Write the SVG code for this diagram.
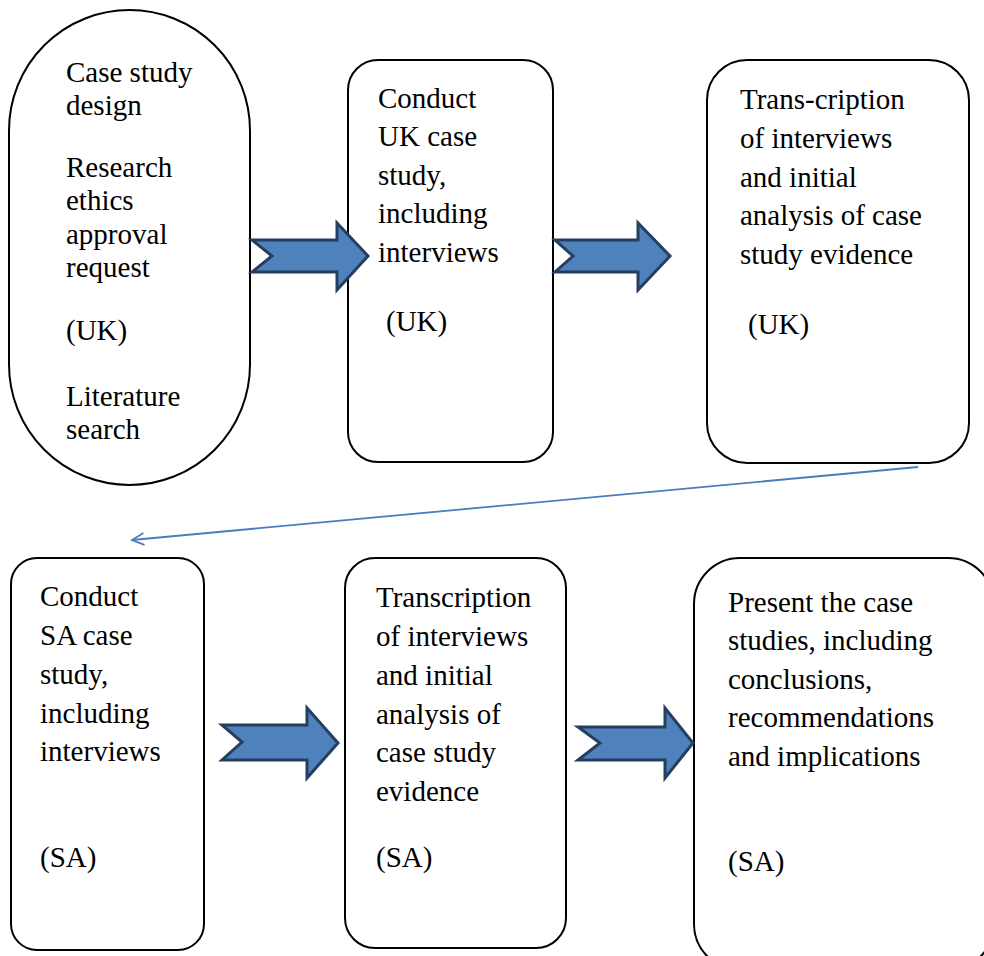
<svg xmlns="http://www.w3.org/2000/svg" width="984" height="956" viewBox="0 0 984 956">
<defs>
<style>
.box{fill:#fff;stroke:#000;stroke-width:2}
.t{font-size:29px;fill:#000}
.blk{fill:#4f81bd;stroke:#243f60;stroke-width:3;stroke-linejoin:miter}
.con{fill:none;stroke:#4a7ebb;stroke-width:1.8}
</style>
<marker id="open" markerWidth="16" markerHeight="16" refX="13" refY="7" orient="auto" markerUnits="userSpaceOnUse">
<path d="M1,1 L13,7 L1,13" fill="none" stroke="#4a7ebb" stroke-width="1.8"/>
</marker>
</defs>
<rect width="984" height="956" fill="#fff"/>
<g font-family="Liberation Serif, DejaVu Serif, serif">
<g id="node1">
<rect class="box" x="9" y="10" width="241" height="475" rx="120.5" ry="120.5"/>
<text class="t" x="66" y="82">Case study</text>
<text class="t" x="66" y="115">design</text>
<text class="t" x="66" y="177">Research</text>
<text class="t" x="66" y="210">ethics</text>
<text class="t" x="66" y="244">approval</text>
<text class="t" x="66" y="277">request</text>
<text class="t" x="66" y="340">(UK)</text>
<text class="t" x="66" y="406">Literature</text>
<text class="t" x="66" y="439">search</text>
</g>
<g id="node2">
<rect class="box" x="348" y="60" width="205" height="402" rx="30" ry="30"/>
<text class="t" x="378" y="108">Conduct</text>
<text class="t" x="378" y="146">UK case</text>
<text class="t" x="378" y="185">study,</text>
<text class="t" x="378" y="223">including</text>
<text class="t" x="378" y="262">interviews</text>
<text class="t" x="386" y="331">(UK)</text>
</g>
<g id="node3">
<rect class="box" x="707" y="60" width="262" height="403" rx="40" ry="40"/>
<text class="t" x="740" y="109">Trans-cription</text>
<text class="t" x="740" y="148">of interviews</text>
<text class="t" x="740" y="187">and initial</text>
<text class="t" x="740" y="225">analysis of case</text>
<text class="t" x="740" y="264">study evidence</text>
<text class="t" x="748" y="334">(UK)</text>
</g>
<g id="node4">
<rect class="box" x="11" y="558" width="193" height="392" rx="26" ry="26"/>
<text class="t" x="40" y="606">Conduct</text>
<text class="t" x="40" y="645">SA case</text>
<text class="t" x="40" y="684">study,</text>
<text class="t" x="40" y="723">including</text>
<text class="t" x="40" y="761">interviews</text>
<text class="t" x="40" y="867">(SA)</text>
</g>
<g id="node5">
<rect class="box" x="345" y="558" width="221" height="390" rx="30" ry="30"/>
<text class="t" x="376" y="607">Transcription</text>
<text class="t" x="376" y="646">of interviews</text>
<text class="t" x="376" y="685">and initial</text>
<text class="t" x="376" y="724">analysis of</text>
<text class="t" x="376" y="762">case study</text>
<text class="t" x="376" y="801">evidence</text>
<text class="t" x="376" y="867">(SA)</text>
</g>
<g id="node6">
<rect class="box" x="694" y="558" width="300" height="412" rx="46" ry="46"/>
<text class="t" x="728" y="612">Present the case</text>
<text class="t" x="728" y="650">studies, including</text>
<text class="t" x="728" y="689">conclusions,</text>
<text class="t" x="728" y="727">recommendations</text>
<text class="t" x="728" y="766">and implications</text>
<text class="t" x="728" y="871">(SA)</text>
</g>
</g>
<g id="connectors">
<path class="blk" d="M252,240 L337,240 L337,223 L368,256 L337,290 L337,272 L252,272 L272,256 Z"/>
<path class="blk" d="M555,240 L638,240 L638,223 L670,256 L638,290 L638,272 L555,272 L573,256 Z"/>
<path class="blk" d="M222,725 L307,725 L307,708 L338,743 L307,778 L307,760 L222,760 L242,742 Z"/>
<path class="blk" d="M578,727 L665,727 L665,708 L693,743 L665,778 L665,760 L578,760 L600,743 Z"/>
<line class="con" x1="918" y1="467" x2="132" y2="540" marker-end="url(#open)"/>
</g>
</svg>
